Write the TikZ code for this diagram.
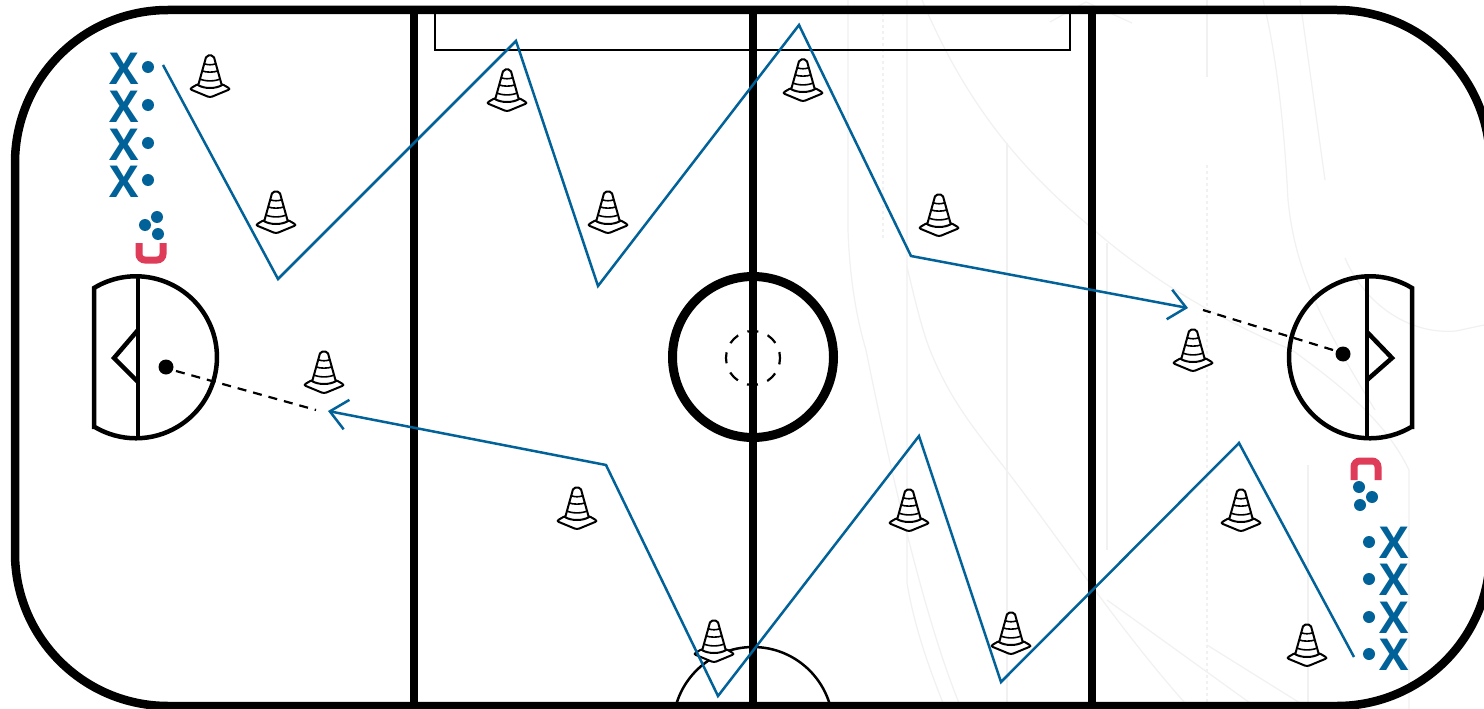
\documentclass[tikz,border=0pt]{standalone}
\usepackage{fontspec}
\setsansfont{Open Sans}
\usepackage{xcolor}
\usetikzlibrary{arrows.meta}
\definecolor{skateblue}{RGB}{0,98,152}
\definecolor{netred}{RGB}{222,60,88}
\definecolor{iceline}{RGB}{241,241,241}
\tikzset{
  rinkline/.style={black,line width=8.5pt},
  creaseline/.style={black,line width=4.5pt},
  thinrink/.style={black,line width=2.5pt},
  faintline/.style={iceline,line width=1.2pt},
  skatepath/.style={skateblue,line width=2.5pt,-{Straight Barb[length=17pt,width=30pt]}},
  shotpath/.style={black,line width=2.2pt,dash pattern=on 9pt off 7pt},
  netmark/.style={netred,line width=7pt,rounded corners=6pt},
  playerx/.style={skateblue,inner sep=0pt,font=\sffamily\bfseries\fontsize{44}{44}\selectfont},
  conemark/.pic={
    \draw[black,fill=white,line width=2pt,rounded corners=2.5pt] (-20.5,0)--(-12,-5)--(12,-5)--(20.5,0)--(0,8.5)--cycle;
    \draw[black,fill=white,line width=2pt,rounded corners=2pt] (-12,-3)--(-3.5,-33.5)--(3.5,-33.5)--(12,-3);
    \draw[black,fill=white,line width=2pt] (-12,-4) .. controls (-6,0) and (6,0) .. (12,-4);
    \draw[black,line width=1.6pt] (-10,-10) .. controls (-5,-7.5) and (5,-7.5) .. (10,-10);
    \draw[black,line width=1.6pt] (-7.5,-18) .. controls (-4,-16.5) and (4,-16.5) .. (7.5,-18);
    \draw[black,line width=1.6pt] (-5,-25) .. controls (-2,-24) and (2,-24) .. (5,-25);
  }
}

\begin{document}
\begin{tikzpicture}[x=1pt,y=-1pt]
  \useasboundingbox (0,0) rectangle (1484,709);
  \clip (0,0) rectangle (1484,709);
  \fill[white] (0,0) rectangle (1484,709);
  % faint marks in the ice
  \draw[faintline] (848,0)--(848,230) .. controls (850,290) and (860,330) .. (866,350) .. controls (890,470) and (925,620) .. (959,703);
  \draw[faintline] (907,0)--(907,583) .. controls (915,630) and (930,670) .. (943,703);
  \draw[faintline] (907,267) .. controls (915,300) and (922,330) .. (930,350) .. controls (950,400) and (975,430) .. (1004,467) .. controls (1060,540) and (1120,630) .. (1185,703);
  \draw[faintline] (922,0) .. controls (960,90) and (1010,160) .. (1086,223) .. controls (1150,280) and (1220,320) .. (1292,350) .. controls (1340,385) and (1385,420) .. (1409,470)--(1409,709);
  \draw[faintline] (1007,143)--(1007,703);
  \draw[faintline] (1107,243)--(1107,550);
  \draw[faintline] (1107,600)--(1250,703);
  \draw[faintline] (1207,645)--(1300,703);
  \draw[faintline] (1207,0)--(1207,77);
  \draw[faintline,dashed] (1207,165)--(1207,703);
  \draw[faintline,dashed] (883,7)--(883,240);
  \draw[faintline] (1308,465)--(1308,703);
  \draw[faintline] (1263,0) .. controls (1278,60) and (1285,140) .. (1288,200) .. controls (1295,270) and (1320,320) .. (1375,410);
  \draw[faintline] (1300,0)--(1325,180);
  \draw[faintline] (1345,258) .. controls (1365,305) and (1410,335) .. (1456,331)--(1484,325);
  \draw[faintline] (1050,22)--(1086,2)--(1132,23);
  % rink
  \draw[thinrink] (435,10)--(435,50)--(1070,50)--(1070,10);
  \draw[thinrink] (753,727) circle (80pt);
  \draw[black,line width=9pt] (753,357) circle (80.5pt);
  \draw[black,line width=2.2pt,dash pattern=on 11pt off 10pt,dash phase=5pt] (753,358) circle (27pt);
  \foreach \xline in {414,753,1092} {
    \draw[black,line width=7.5pt] (\xline,10)--(\xline,706);
  }
  \draw[rinkline,rounded corners=153pt] (15,10) rectangle (1490,706);
  % creases
  \draw[creaseline] (94,429)--(94,288) arc[start angle=121.2,end angle=-121.2,radius=81pt];
  \draw[creaseline] (138,276)--(138,440);
  \draw[creaseline] (138,330)--(114,358)--(138,382);
  \draw[creaseline] (1412,429)--(1412,288) arc[start angle=58.8,end angle=301.2,radius=81pt];
  \draw[creaseline] (1367,276)--(1367,440);
  \draw[creaseline] (1367,332)--(1392,358)--(1367,380);
  % cones
  \foreach \xcone/\ycone in {210/89,276/225,507/103,608/225,803/93,939/228,1193/363,324/385,577/521,714/654,909/523,1241/523,1011/646,1307/658} {
    \pic at (\xcone,\ycone) {conemark};
  }
  % players
  \foreach \nplayer/\yplayer in {1/69,2/107,3/145,4/182} {
    \node[playerx] (xleft\nplayer) at (124,\yplayer) {X};
    \fill[skateblue] (148,\yplayer-2) circle (6pt);
  }
  \foreach \nplayer/\yplayer in {1/543,2/580,3/618,4/655} {
    \node[playerx] (xright\nplayer) at (1394,\yplayer) {X};
    \fill[skateblue] (1369,\yplayer-1) circle (6pt);
  }
  \fill[skateblue] (157,217) circle (6pt);
  \fill[skateblue] (145,225) circle (6pt);
  \fill[skateblue] (158,234) circle (6pt);
  \fill[skateblue] (1359,487) circle (6pt);
  \fill[skateblue] (1372,497) circle (6pt);
  \fill[skateblue] (1360,505) circle (6pt);
  % nets
  \draw[netmark] (139,243)--(139,260)--(163,260)--(163,243);
  \draw[netmark] (1354,480)--(1354,461)--(1378,461)--(1378,480);
  % shots
  \fill[black] (166,367) circle (7.5pt);
  \fill[black] (1343,354) circle (7.5pt);
  \coordinate (shotleft) at (176,371);
  \coordinate (shotright) at (1333,350);
  \coordinate (arrowleft) at (328,411);
  \coordinate (arrowright) at (1188,308);
  \draw[shotpath] (shotleft)--(316,410);
  \draw[shotpath] (shotright)--(1203,310);
  % skating routes
  \draw[skatepath] (163,65)--(278,279)--(516,41)--(598,286)--(799,25)--(911,256)--(arrowright);
  \draw[skatepath] (1354,657)--(1239,443)--(1001,682)--(919,436)--(718,696)--(606,465)--(arrowleft);
\end{tikzpicture}
\end{document}
